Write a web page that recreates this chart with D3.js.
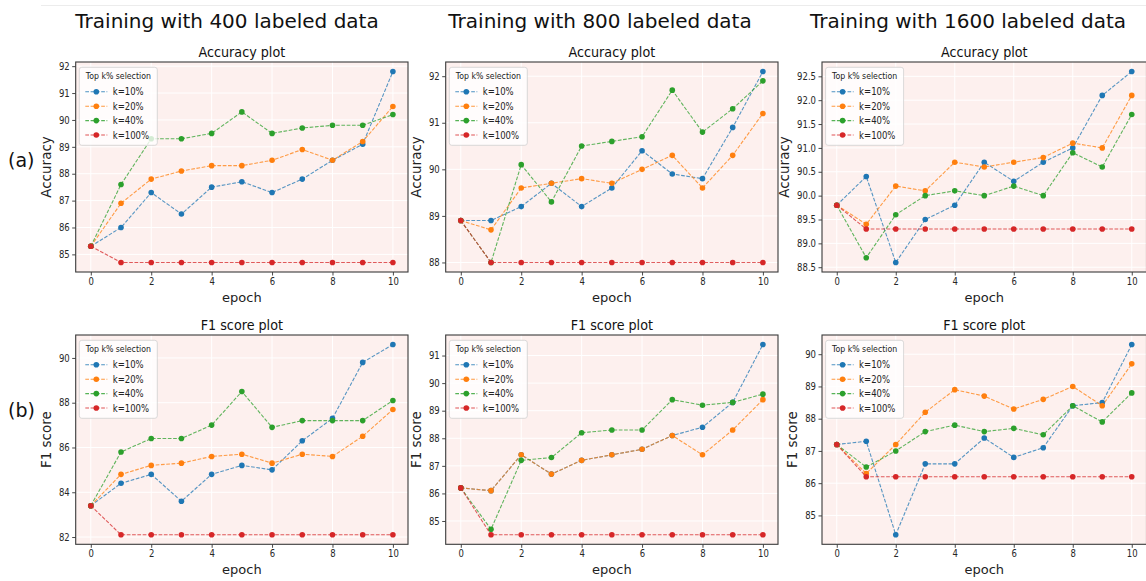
<!DOCTYPE html>
<html><head><meta charset="utf-8">
<script src="https://cdn.jsdelivr.net/npm/d3@7"></script>
<style>
body{margin:0;background:#fff;}
svg{display:block;}
text{font-family:"DejaVu Sans",sans-serif;}
</style></head>
<body>
<svg id="c" width="1146" height="581"></svg>
<script>
// ---------------- data ----------------
const epochs = [0,1,2,3,4,5,6,7,8,9,10];
const seriesLabels = ["k=10%","k=20%","k=40%","k=100%"];
const seriesColors = ["#1f77b4","#ff7f0e","#2ca02c","#d62728"];
const columnTitles = ["Training with 400 labeled data","Training with 800 labeled data","Training with 1600 labeled data"];
const rowTags = ["(a)","(b)"];
const legendTitle = "Top k% selection";

const acc400 = [
  [85.3,86.0,87.3,86.5,87.5,87.7,87.3,87.8,88.5,89.1,91.8],
  [85.3,86.9,87.8,88.1,88.3,88.3,88.5,88.9,88.5,89.2,90.5],
  [85.3,87.6,89.3,89.3,89.5,90.3,89.5,89.7,89.8,89.8,90.2],
  [85.3,84.7,84.7,84.7,84.7,84.7,84.7,84.7,84.7,84.7,84.7]
];
const acc800 = [
  [88.9,88.9,89.2,89.7,89.2,89.6,90.4,89.9,89.8,90.9,92.1],
  [88.9,88.7,89.6,89.7,89.8,89.7,90.0,90.3,89.6,90.3,91.2],
  [88.9,88.0,90.1,89.3,90.5,90.6,90.7,91.7,90.8,91.3,91.9],
  [88.9,88.0,88.0,88.0,88.0,88.0,88.0,88.0,88.0,88.0,88.0]
];
const acc1600 = [
  [89.8,90.4,88.6,89.5,89.8,90.7,90.3,90.7,91.0,92.1,92.6],
  [89.8,89.4,90.2,90.1,90.7,90.6,90.7,90.8,91.1,91.0,92.1],
  [89.8,88.7,89.6,90.0,90.1,90.0,90.2,90.0,90.9,90.6,91.7],
  [89.8,89.3,89.3,89.3,89.3,89.3,89.3,89.3,89.3,89.3,89.3]
];
const f1_400 = [
  [83.4,84.4,84.8,83.6,84.8,85.2,85.0,86.3,87.3,89.8,90.6],
  [83.4,84.8,85.2,85.3,85.6,85.7,85.3,85.7,85.6,86.5,87.7],
  [83.4,85.8,86.4,86.4,87.0,88.5,86.9,87.2,87.2,87.2,88.1],
  [83.4,82.1,82.1,82.1,82.1,82.1,82.1,82.1,82.1,82.1,82.1]
];
const f1_800 = [
  [86.2,86.1,87.4,86.7,87.2,87.4,87.6,88.1,88.4,89.3,91.4],
  [86.2,86.1,87.4,86.7,87.2,87.4,87.6,88.1,87.4,88.3,89.4],
  [86.2,84.7,87.2,87.3,88.2,88.3,88.3,89.4,89.2,89.3,89.6],
  [86.2,84.5,84.5,84.5,84.5,84.5,84.5,84.5,84.5,84.5,84.5]
];
const f1_1600 = [
  [87.2,87.3,84.4,86.6,86.6,87.4,86.8,87.1,88.4,88.5,90.3],
  [87.2,86.3,87.2,88.2,88.9,88.7,88.3,88.6,89.0,88.4,89.7],
  [87.2,86.5,87.0,87.6,87.8,87.6,87.7,87.5,88.4,87.9,88.8],
  [87.2,86.2,86.2,86.2,86.2,86.2,86.2,86.2,86.2,86.2,86.2]
];

const xTicks = [0,2,4,6,8,10];
const yTicksAcc400 = [85,86,87,88,89,90,91,92];
const yTicksAcc800 = [88,89,90,91,92];
const yTicksAcc1600 = [88.5,89.0,89.5,90.0,90.5,91.0,91.5,92.0,92.5];
const yTicksF1_400 = [82,84,86,88,90];
const yTicksF1_800 = [85,86,87,88,89,90,91];
const yTicksF1_1600 = [85,86,87,88,89,90];

const panelTitles = ["Accuracy plot","F1 score plot"];
const yLabels = ["Accuracy","F1 score"];
const xLabel = "epoch";

// ---------------- layout ----------------
const svg = d3.select("#c");
const cols = [{l:75.7,r:408},{l:445.7,r:778},{l:822,r:1146.5}];
const rows = [{t:62,b:272},{t:335,b:544.3}];
const bg = "#fdf0ee";
const TSX = 0.85; // horizontal text compression of plot texts

svg.append("line").attr("x1",41).attr("x2",1146).attr("y1",5.5).attr("y2",5.5)
  .attr("stroke","#ececec").attr("stroke-width",1);

function label(g,x,y,s,size,opt={}){
  const sx = opt.sx==null?TSX:opt.sx;
  const rot = opt.rot||0;
  return g.append("text")
    .attr("transform",`translate(${x},${y}) rotate(${rot}) scale(${rot? 1: sx},1)`)
    .attr("text-anchor",opt.anchor||"middle")
    .attr("font-size",size)
    .attr("fill",opt.fill||"#222")
    .attr("font-family",opt.family||"DejaVu Sans")
    .text(s);
}

function panel(ci,ri,data,yTicks,yFmt){
  const C=cols[ci], R=rows[ri];
  const g = svg.append("g");
  const x = d3.scaleLinear().domain([-0.5,10.5]).range([C.l,C.r]);
  const [mn,mx] = d3.extent(data.flat());
  const pad=(mx-mn)*0.05;
  const y = d3.scaleLinear().domain([mn-pad,mx+pad]).range([R.b,R.t]);

  const clipId = `clip${ci}${ri}`;
  g.append("clipPath").attr("id",clipId).append("rect")
    .attr("x",C.l).attr("y",R.t).attr("width",C.r-C.l).attr("height",R.b-R.t);

  g.append("rect").attr("x",C.l).attr("y",R.t).attr("width",C.r-C.l).attr("height",R.b-R.t)
    .attr("fill",bg);

  const grid = g.append("g").attr("clip-path",`url(#${clipId})`);
  grid.selectAll(".gx").data(xTicks).join("line")
    .attr("x1",d=>x(d)).attr("x2",d=>x(d)).attr("y1",R.t).attr("y2",R.b)
    .attr("stroke","#fff").attr("stroke-width",1);
  grid.selectAll(".gy").data(yTicks).join("line")
    .attr("y1",d=>y(d)).attr("y2",d=>y(d)).attr("x1",C.l).attr("x2",C.r)
    .attr("stroke","#fff").attr("stroke-width",1);

  const plot = g.append("g").attr("clip-path",`url(#${clipId})`);
  const line = d3.line().x((d,i)=>x(epochs[i])).y(d=>y(d));
  data.forEach((s,si)=>{
    plot.append("path").datum(s).attr("d",line)
      .attr("fill","none").attr("stroke",seriesColors[si]).attr("stroke-width",1.1)
      .attr("stroke-dasharray","3.7,1.6").attr("stroke-opacity",0.75);
    plot.selectAll(null).data(s).join("circle")
      .attr("cx",(d,i)=>x(epochs[i])).attr("cy",d=>y(d)).attr("r",2.8)
      .attr("fill",seriesColors[si]);
  });

  // axes
  const ax = g.append("g").attr("transform",`translate(0,${R.b})`)
    .call(d3.axisBottom(x).tickValues(xTicks).tickSize(3.5).tickPadding(2.5).tickFormat(d3.format("d")));
  const ay = g.append("g").attr("transform",`translate(${C.l},0)`)
    .call(d3.axisLeft(y).tickValues(yTicks).tickSize(3.5).tickPadding(2.5).tickFormat(yFmt));
  [ax,ay].forEach(a=>{
    a.select(".domain").remove();
    a.selectAll(".tick line").attr("stroke","#333").attr("stroke-width",0.9);
    a.selectAll(".tick text").attr("font-size",10).attr("fill","#262626")
      .attr("font-family","DejaVu Sans");
  });
  ax.selectAll(".tick text").attr("transform",`scale(${TSX},1)`);
  ay.selectAll(".tick text").attr("x",-6/TSX).attr("transform",`scale(${TSX},1)`);

  // spines
  g.append("rect").attr("x",C.l).attr("y",R.t).attr("width",C.r-C.l).attr("height",R.b-R.t)
    .attr("fill","none").attr("stroke","#3a3a3a").attr("stroke-width",1.1);

  let maxw=0;
  ay.selectAll(".tick text").each(function(){maxw=Math.max(maxw,this.getComputedTextLength()*TSX);});
  label(g,C.l-3.5-2.5-maxw-8,(R.t+R.b)/2,yLabels[ri],13.5,{rot:-90});

  label(g,(C.l+C.r)/2,R.b+29.5,xLabel,13,{sx:1});
  label(g,(C.l+C.r)/2,R.t-5.5,panelTitles[ri],14.5,{sx:0.88,fill:"#111"});

  // legend
  const lg = g.append("g").attr("transform",`translate(${C.l+3.6},${R.t+5.3})`);
  lg.append("rect").attr("width",78).attr("height",78).attr("rx",2.5)
    .attr("fill","#fff").attr("fill-opacity",0.8).attr("stroke","#d0d0d0").attr("stroke-width",0.8);
  label(lg,39,11.8,legendTitle,9.2,{});
  seriesLabels.forEach((s,si)=>{
    const cy = 24.5+si*14.4;
    lg.append("line").attr("x1",6).attr("x2",28).attr("y1",cy).attr("y2",cy)
      .attr("stroke",seriesColors[si]).attr("stroke-width",1.1).attr("stroke-dasharray","3.7,1.6")
      .attr("stroke-opacity",0.8);
    lg.append("circle").attr("cx",17).attr("cy",cy).attr("r",2.8).attr("fill",seriesColors[si]);
    label(lg,33.5,cy+3.5,s,10,{anchor:"start"});
  });
}

const fmtInt = d3.format("d");
const fmt1 = d3.format(".1f");
panel(0,0,acc400,yTicksAcc400,fmtInt);
panel(1,0,acc800,yTicksAcc800,fmtInt);
panel(2,0,acc1600,yTicksAcc1600,fmt1);
panel(0,1,f1_400,yTicksF1_400,fmtInt);
panel(1,1,f1_800,yTicksF1_800,fmtInt);
panel(2,1,f1_1600,yTicksF1_1600,fmtInt);

const titleCenters = [227,600,968];
columnTitles.forEach((t,i)=>label(svg,titleCenters[i],27.5,t,20,{sx:1,fill:"#111"}));
label(svg,8,167,rowTags[0],19,{sx:1,anchor:"start",family:"Liberation Sans",fill:"#111"});
label(svg,8,417,rowTags[1],19,{sx:1,anchor:"start",family:"Liberation Sans",fill:"#111"});
</script>
</body></html>
